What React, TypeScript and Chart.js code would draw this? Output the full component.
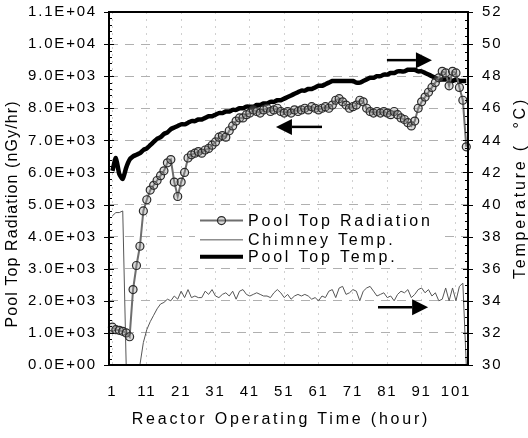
import React, { useEffect, useRef } from 'react';
import { Chart, registerables } from 'chart.js';

Chart.register(...registerables);

const hours = [
  1, 2, 3, 4, 5, 6, 7, 8, 9, 10, 11, 12, 13, 14, 15, 16, 17, 18, 19, 20,
  21, 22, 23, 24, 25, 26, 27, 28, 29, 30, 31, 32, 33, 34, 35, 36, 37, 38, 39, 40,
  41, 42, 43, 44, 45, 46, 47, 48, 49, 50, 51, 52, 53, 54, 55, 56, 57, 58, 59, 60,
  61, 62, 63, 64, 65, 66, 67, 68, 69, 70, 71, 72, 73, 74, 75, 76, 77, 78, 79, 80,
  81, 82, 83, 84, 85, 86, 87, 88, 89, 90, 91, 92, 93, 94, 95, 96, 97, 98, 99, 100,
  101, 102, 103, 104,
];

const radiation = [
  1180, 1100, 1080, 1050, 1000, 880, 2350, 3100, 3700, 4800,
  5150, 5450, 5600, 5750, 5900, 6050, 6300, 6400, 5700, 5250,
  5700, 6000, 6450, 6550, 6600, 6650, 6600, 6700, 6750, 6850,
  6950, 7100, 7150, 7100, 7300, 7450, 7600, 7700, 7700, 7800,
  7850, 7950, 7900, 7850, 7950, 8000, 7900, 7950, 8000, 7900,
  7850, 7900, 7850, 7950, 7900, 7950, 8000, 7950, 8050, 8000,
  7950, 8000, 8050, 8000, 8100, 8250, 8300, 8200, 8100, 8000,
  8050, 8100, 8250, 8200, 8000, 7900, 7850, 7900, 7850, 7900,
  7850, 7800, 7900, 7800, 7700, 7650, 7550, 7450, 7600, 8000,
  8200, 8350, 8500, 8650, 8800, 8950, 9150, 9100, 8700, 9150,
  9100, 8650, 8250, 6800,
];

const chimneyTemp = [
  39.3, 39.5, 39.5, 39.6, 30, 30, 30, 30, 30, 31.4,
  32.2, 32.7, 33.1, 33.5, 33.8, 33.9, 34.1, 34.0, 34.3, 34.1,
  34.6, 34.2, 34.7, 34.2, 34.3, 34.2, 34.2, 34.6, 34.4, 34.7,
  34.3, 34.2, 34.4, 34.5, 34.3, 34.6, 34.1, 34.6, 34.7, 34.4,
  34.3, 34.4, 34.5, 34.4, 34.3, 34.3, 34.2, 34.5, 34.7, 34.5,
  34.2, 34.4, 34.1, 34.3, 34.4, 34.3, 34.4, 34.3, 34.1, 34.2,
  34.0, 34.3, 34.2, 34.6, 34.7, 34.2, 34.8, 34.9, 34.4, 34.5,
  34.7, 34.6, 34.0, 34.6, 34.8, 34.9, 34.6, 34.3, 34.4, 34.5,
  34.2, 34.3, 34.0, 34.4, 34.6, 34.5, 34.7, 34.2, 34.4, 34.7,
  34.8, 34.5, 34.7, 34.3, 34.5, 34.0, 34.1, 34.8, 34.0, 34.8,
  34.0, 34.9, 35.1, 30,
];

const poolTopTemp = [
  42.1, 42.9, 41.9, 41.6, 42.3, 42.8, 43.0, 43.1, 43.2, 43.4,
  43.5, 43.7, 43.9, 44.1, 44.2, 44.4, 44.5, 44.7, 44.8, 44.9,
  45.0, 45.0, 45.1, 45.2, 45.2, 45.3, 45.3, 45.4, 45.5, 45.5,
  45.6, 45.7, 45.7, 45.8, 45.8, 45.9, 45.9, 46.0, 46.0, 46.1,
  46.1, 46.1, 46.2, 46.2, 46.3, 46.3, 46.4, 46.4, 46.5, 46.5,
  46.6, 46.7, 46.8, 46.9, 47.0, 47.1, 47.1, 47.2, 47.2, 47.3,
  47.4, 47.4, 47.5, 47.6, 47.7, 47.7, 47.7, 47.7, 47.7, 47.7,
  47.7, 47.6, 47.6, 47.7, 47.8, 47.9, 47.9, 48.0, 48.0, 48.1,
  48.1, 48.2, 48.2, 48.3, 48.3, 48.3, 48.4, 48.4, 48.4, 48.3,
  48.3, 48.2, 48.1, 48.0, 47.9, 47.8, 47.8, 47.8, 47.8, 47.7,
  47.8, 47.7, 47.7, 47.7,
];

const xTickValues = [1, 11, 21, 31, 41, 51, 61, 71, 81, 91, 101];
const legendLabels = ['Pool Top Radiation', 'Chimney Temp.', 'Pool Top Temp.'];
const xTitle = 'Reactor Operating Time (hour)';
const yTitle = 'Pool Top Radiation (nGy/hr)';
const y1Title = 'Temperature (  \u00B0C)';

// arrows given in data coordinates: axis, start hour, end hour (tip), value
const arrowAxes = ['y1', 'y', 'y1'];
const arrowFrom = [80.9, 62, 78.3];
const arrowTo = [94, 48.6, 92.9];
const arrowValue = [49.0, 7420, 33.6];

const FONT = '"Liberation Sans", Arial, Helvetica, sans-serif';
const RAD_LINE = '#6e6e6e';
const RAD_POINT = '#2a2a2a';
const RAD_FILL = 'rgba(150,150,150,0.35)';

function sci(v: number): string {
  if (v === 0) return '0.0E+00';
  const e = Math.floor(Math.log10(v) + 1e-9);
  const m = v / Math.pow(10, e);
  return m.toFixed(1) + 'E+' + String(e).padStart(2, '0');
}

function fixSize(prop: 'width' | 'height', size: number) {
  return (s: any) => {
    s[prop] = size;
    s.paddingTop = 0;
    s.paddingBottom = 0;
    s.paddingLeft = 0;
    s.paddingRight = 0;
  };
}

const spacingPlugin = {
  id: 'spacing',
  beforeLayout(chart: any) {
    chart.ctx.letterSpacing = '1.8px';
  },
  beforeDraw(chart: any) {
    chart.ctx.letterSpacing = '1.8px';
  },
};

const decorPlugin = {
  id: 'decor',
  afterDraw(chart: any) {
    const { ctx, chartArea: a, scales } = chart;
    const x = scales.x;
    const y = scales.y;
    const y1 = scales.y1;
    ctx.save();
    ctx.letterSpacing = '0px';

    // minor/major ticks
    ctx.strokeStyle = '#000';
    ctx.lineWidth = 1;
    ctx.beginPath();
    for (let v = 0; v <= 11000; v += 200) {
      const py = Math.round(y.getPixelForValue(v)) + 0.5;
      if (v % 1000 === 0) {
        ctx.moveTo(a.left - 5, py);
        ctx.lineTo(a.left + 5, py);
      } else {
        ctx.moveTo(a.left, py);
        ctx.lineTo(a.left + 3, py);
      }
    }
    for (let v = 30; v <= 52; v += 0.5) {
      const py = Math.round(y1.getPixelForValue(v)) + 0.5;
      if (v % 2 === 0) {
        ctx.moveTo(a.right - 5, py);
        ctx.lineTo(a.right + 5, py);
      } else {
        ctx.moveTo(a.right - 3, py);
        ctx.lineTo(a.right, py);
      }
    }
    ctx.stroke();

    // frame
    ctx.lineWidth = 2;
    ctx.strokeRect(a.left, a.top, a.right - a.left, a.bottom - a.top);

    // arrows
    ctx.fillStyle = '#000';
    for (let i = 0; i < arrowAxes.length; i++) {
      const sc = scales[arrowAxes[i]];
      const x0 = x.getPixelForValue(arrowFrom[i]);
      const x1 = x.getPixelForValue(arrowTo[i]);
      const py = sc.getPixelForValue(arrowValue[i]);
      const dir = Math.sign(x1 - x0);
      const headLen = 16;
      const headHalf = 8;
      ctx.lineWidth = 2.5;
      ctx.beginPath();
      ctx.moveTo(x0, py);
      ctx.lineTo(x1 - dir * headLen, py);
      ctx.stroke();
      ctx.beginPath();
      ctx.moveTo(x1, py);
      ctx.lineTo(x1 - dir * headLen, py - headHalf);
      ctx.lineTo(x1 - dir * headLen, py + headHalf);
      ctx.closePath();
      ctx.fill();
    }

    // legend
    const lx0 = a.left + 91;
    const lx1 = a.left + 134;
    const rows = [y.getPixelForValue(4500), y.getPixelForValue(3900), y.getPixelForValue(3370)];
    ctx.fillStyle = '#fff';
    ctx.fillRect(lx0 - 5, rows[0] - 10, 245, rows[2] - rows[0] + 20);
    // sample 1
    ctx.strokeStyle = RAD_LINE;
    ctx.lineWidth = 2;
    ctx.beginPath();
    ctx.moveTo(lx0, rows[0]);
    ctx.lineTo(lx1, rows[0]);
    ctx.stroke();
    ctx.fillStyle = RAD_FILL;
    ctx.strokeStyle = RAD_POINT;
    ctx.lineWidth = 1.2;
    ctx.beginPath();
    ctx.arc((lx0 + lx1) / 2, rows[0], 4, 0, Math.PI * 2);
    ctx.fill();
    ctx.stroke();
    // sample 2
    ctx.strokeStyle = '#555';
    ctx.lineWidth = 1;
    ctx.beginPath();
    ctx.moveTo(lx0, rows[1]);
    ctx.lineTo(lx1, rows[1]);
    ctx.stroke();
    // sample 3
    ctx.strokeStyle = '#000';
    ctx.lineWidth = 4;
    ctx.beginPath();
    ctx.moveTo(lx0, rows[2]);
    ctx.lineTo(lx1, rows[2]);
    ctx.stroke();

    ctx.fillStyle = '#000';
    ctx.font = '16px ' + FONT;
    ctx.letterSpacing = '2.8px';
    ctx.textAlign = 'left';
    ctx.textBaseline = 'middle';
    for (let i = 0; i < legendLabels.length; i++) {
      ctx.fillText(legendLabels[i], lx1 + 5, rows[i] + 1);
    }

    // axis titles
    ctx.textAlign = 'center';
    ctx.fillText(xTitle, 281, 420);

    ctx.save();
    ctx.translate(13, 214);
    ctx.rotate(-Math.PI / 2);
    ctx.letterSpacing = '1.1px';
    ctx.fillText(yTitle, 0, 0);
    ctx.restore();

    ctx.save();
    ctx.translate(521, 188);
    ctx.rotate(-Math.PI / 2);
    ctx.letterSpacing = '2.8px';
    ctx.fillText(y1Title, 0, 0);
    ctx.restore();

    ctx.restore();
  },
};

export default function App() {
  const canvasRef = useRef<HTMLCanvasElement | null>(null);

  useEffect(() => {
    const canvas = canvasRef.current;
    if (!canvas) return;
    const tickFont = { family: FONT, size: 15 };
    const chart = new Chart(canvas, {
      type: 'line',
      data: {
        datasets: [
          {
            label: legendLabels[0],
            data: hours.map((h, i) => ({ x: h, y: radiation[i] })),
            yAxisID: 'y',
            borderColor: RAD_LINE,
            borderWidth: 2,
            pointRadius: 4,
            pointBorderColor: RAD_POINT,
            pointBackgroundColor: RAD_FILL,
            pointBorderWidth: 1.2,
            tension: 0,
            clip: false,
          } as any,
          {
            label: legendLabels[2],
            data: hours.map((h, i) => ({ x: h, y: poolTopTemp[i] })),
            yAxisID: 'y1',
            borderColor: '#000',
            borderWidth: 4.5,
            pointRadius: 0,
            tension: 0.2,
          },
          {
            label: legendLabels[1],
            data: hours.map((h, i) => ({ x: h, y: chimneyTemp[i] })),
            yAxisID: 'y1',
            borderColor: '#555',
            borderWidth: 1,
            pointRadius: 0,
            tension: 0,
            clip: false,
          } as any,
        ],
      },
      options: {
        responsive: false,
        animation: false,
        devicePixelRatio: 1,
        layout: { padding: { top: 12, left: 0, right: 0, bottom: 0 } },
        plugins: { legend: { display: false }, tooltip: { enabled: false } },
        scales: {
          x: {
            type: 'linear',
            min: 0,
            max: 104.5,
            afterBuildTicks: (s: any) => {
              s.ticks = xTickValues.map((v) => ({ value: v }));
            },
            afterFit: fixSize('height', 73),
            grid: { color: '#d0d0d0', drawTicks: false },
            border: { display: false, dash: [2, 5] },
            ticks: {
              font: tickFont,
              color: '#000',
              padding: 18,
              maxRotation: 0,
              autoSkip: false,
              callback: (v: any) => String(v),
            },
          },
          y: {
            position: 'left',
            min: 0,
            max: 11000,
            afterFit: fixSize('width', 109),
            grid: { color: '#b0b0b0', drawTicks: false },
            border: { display: false, dash: [9, 7] },
            ticks: {
              stepSize: 1000,
              autoSkip: false,
              font: tickFont,
              color: '#000',
              padding: 12,
              callback: (v: any) => sci(Number(v)),
            },
          },
          y1: {
            position: 'right',
            min: 30,
            max: 52,
            afterFit: fixSize('width', 60),
            grid: { display: false, drawTicks: false },
            border: { display: false },
            ticks: {
              stepSize: 2,
              autoSkip: false,
              font: tickFont,
              color: '#000',
              padding: 14,
            },
          },
        },
      } as any,
      plugins: [spacingPlugin, decorPlugin],
    });
    return () => chart.destroy();
  }, []);

  return (
    <div style={{ position: 'fixed', left: 0, top: 0, width: 528, height: 438, background: '#fff' }}>
      <canvas ref={canvasRef} width={528} height={438} style={{ display: 'block' }} />
    </div>
  );
}
